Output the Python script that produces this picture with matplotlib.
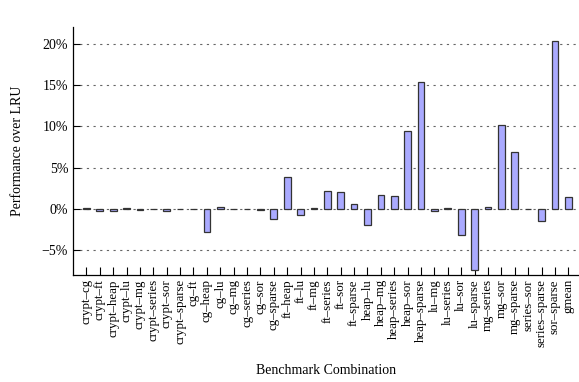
import numpy as np
import matplotlib
matplotlib.use("Agg")
import matplotlib.pyplot as plt
from matplotlib.ticker import FuncFormatter

plt.rcParams['font.family'] = ['Liberation Serif', 'DejaVu Serif']

# benchmark pairs and their performance relative to LRU (%)
combos = ['crypt–cg', 'crypt–ft', 'crypt–heap', 'crypt–lu', 'crypt–mg', 'crypt–series',
          'crypt–sor', 'crypt–sparse', 'cg–ft', 'cg–heap', 'cg–lu', 'cg–mg', 'cg–series',
          'cg–sor', 'cg–sparse', 'ft–heap', 'ft–lu', 'ft–mg', 'ft–series', 'ft–sor',
          'ft–sparse', 'heap–lu', 'heap–mg', 'heap–series', 'heap–sor', 'heap–sparse',
          'lu–mg', 'lu–series', 'lu–sor', 'lu–sparse', 'mg–series', 'mg–sor', 'mg–sparse',
          'series–sor', 'series–sparse', 'sor–sparse', 'gmean']
perf = [0.05, -0.3, -0.2, 0.05, -0.1, -0.05,
        -0.2, -0.05, 0.02, -2.8, 0.25, -0.05, -0.05,
        -0.1, -1.2, 3.85, -0.8, 0.1, 2.2, 2.05,
        0.6, -1.95, 1.7, 1.55, 9.4, 15.4,
        -0.25, 0.05, -3.2, -7.35, 0.25, 10.2, 6.9,
        -0.05, -1.45, 20.35, 1.4]
yticks = [-5, 0, 5, 10, 15, 20]

fig = plt.figure(figsize=(5.79, 3.82), dpi=100)
ax = fig.add_axes([73 / 579, 107 / 382, 506 / 579, 248 / 382])

x = np.arange(len(combos))
ax.bar(x, perf, width=0.5, color='#aaaaff', edgecolor='#333333', linewidth=0.9, zorder=3)

ax.set_xlim(-1.0, len(combos) - 0.2)
ax.set_ylim(-8, 22)
ax.set_yticks(yticks)
ax.yaxis.set_major_formatter(FuncFormatter(lambda v, p: f"{int(v)}%".replace('-', '−')))
ax.set_xticks(x)
ax.set_xticklabels(combos, rotation=90, fontsize=9.3)
ax.tick_params(axis='y', direction='in', length=5, labelsize=10, width=0.8)
ax.tick_params(axis='x', direction='in', length=6, width=0.8, pad=3)

ax.grid(axis='y', color='#666666', linestyle=(0, (2, 4)), linewidth=0.8, zorder=0)
for side in ['top', 'right']:
    ax.spines[side].set_visible(False)
for side in ['left', 'bottom']:
    ax.spines[side].set_linewidth(0.9)

ax.set_ylabel('Performance over LRU', fontsize=10)
ax.yaxis.set_label_coords(-0.097, 0.5)
ax.set_xlabel('Benchmark Combination', fontsize=10)
ax.xaxis.set_label_coords(0.5, -0.36)

fig.savefig('out.png', dpi=100)
